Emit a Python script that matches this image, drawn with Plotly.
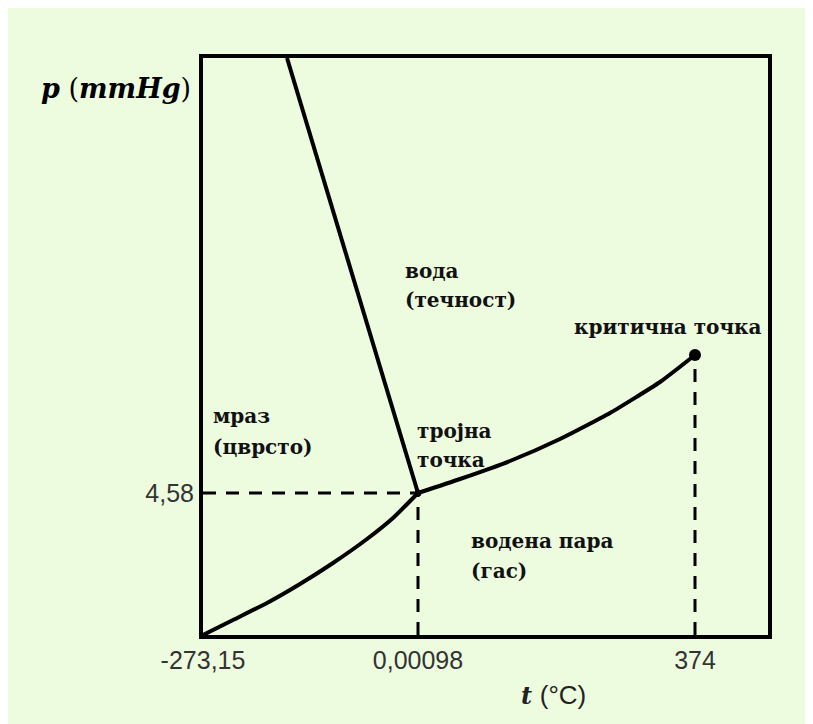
import plotly.graph_objects as go

# Schematic coordinates (arbitrary units, not to scale)
x_tick_vals = [0, 215, 492]
x_tick_text = ["-273,15", "0,00098", "374"]
y_tick_vals = [142]
y_tick_text = ["4,58"]

# sublimation curve (ice - vapour)
subl_x = [0, 30, 64, 97, 130, 164, 190, 215]
subl_y = [0, 15, 32, 51, 72, 96, 117, 142]
# vaporisation curve (liquid - vapour)
vap_x = [215, 257, 307, 357, 407, 457, 492]
vap_y = [142, 156, 174, 196, 222, 253, 280]
# melting curve (ice - liquid)
melt_x = [215, 84]
melt_y = [142, 577]

triple = (215, 142)
critical = (492, 280)

region_labels = [
    ("вода", 200, 364),
    ("(течност)", 200, 335),
    ("мраз", 8, 219),
    ("(цврсто)", 8, 188),
    ("тројна", 212, 204),
    ("точка", 212, 175),
    ("водена пара", 266, 94),
    ("(гас)", 266, 64),
    ("критична точка", 369, 308),
]

X_RANGE = [0, 565]
Y_RANGE = [0, 577]
# page has an 8px body margin
OFF = 8
W, H = 813, 716
L, R, T, B = 195, 53, 50, 89
PW = W - L - R
PH = H - T - B

def px2paper_x(px):
    return (px - OFF - L) / PW

def px2paper_y(py):
    return (H - B - (py - OFF)) / PH

BG = "#EDFBDF"
fig = go.Figure()

line_style = dict(color="black", width=4)
curve_style = dict(color="black", width=4, shape="spline", smoothing=0.5)
dash_style = dict(color="black", width=3, dash="13px,10px")

# dashed guides
fig.add_trace(go.Scatter(x=[0, triple[0]], y=[triple[1], triple[1]], mode="lines",
                         line=dash_style, hoverinfo="skip"))
fig.add_trace(go.Scatter(x=[triple[0], triple[0]], y=[0, triple[1]], mode="lines",
                         line=dash_style, hoverinfo="skip"))
fig.add_trace(go.Scatter(x=[critical[0], critical[0]], y=[0, critical[1]], mode="lines",
                         line=dash_style, hoverinfo="skip"))

fig.add_trace(go.Scatter(x=subl_x, y=subl_y, mode="lines", line=curve_style, hoverinfo="skip"))
fig.add_trace(go.Scatter(x=vap_x, y=vap_y, mode="lines", line=curve_style, hoverinfo="skip"))
fig.add_trace(go.Scatter(x=melt_x, y=melt_y, mode="lines", line=line_style, hoverinfo="skip"))
fig.add_trace(go.Scatter(x=[critical[0]], y=[critical[1]], mode="markers",
                         marker=dict(color="black", size=12), hoverinfo="skip"))
fig.add_trace(go.Scatter(x=[triple[0]], y=[triple[1]], mode="markers",
                         marker=dict(color="black", size=7), hoverinfo="skip"))

label_font = dict(family="DejaVu Serif", size=20, color="#111111")
for txt, lx, ly in region_labels:
    fig.add_annotation(x=lx, y=ly, xref="x", yref="y", text=f"<b>{txt}</b>",
                       showarrow=False, xanchor="left", yanchor="middle", font=label_font)

# axis titles
fig.add_annotation(x=px2paper_x(193), y=px2paper_y(88), xref="paper", yref="paper",
                   text="<b><i>p</i></b> (<b><i>mmHg</i></b>)", showarrow=False,
                   xanchor="right", yanchor="middle",
                   font=dict(family="DejaVu Serif", size=27, color="black"))
fig.add_annotation(x=px2paper_x(519), y=px2paper_y(695), xref="paper", yref="paper",
                   text="<b><i>t</i></b> <span style='font-family:Liberation Sans;font-size:26px'>(°C)</span>",
                   showarrow=False, xanchor="left", yanchor="middle",
                   font=dict(family="DejaVu Serif", size=24, color="#222222"))

tick_font = dict(family="Liberation Sans, Arial, sans-serif", size=25, color="#333333")
fig.update_xaxes(range=X_RANGE, tickvals=x_tick_vals, ticktext=x_tick_text, showgrid=False,
                 zeroline=False, showline=True, linecolor="black", linewidth=4, mirror=True,
                 ticks="", tickfont=tick_font)
fig.update_yaxes(range=Y_RANGE, tickvals=y_tick_vals, ticktext=y_tick_text, showgrid=False,
                 zeroline=False, showline=True, linecolor="black", linewidth=4, mirror=True,
                 ticks="", tickfont=tick_font)
fig.update_layout(width=W, height=H, margin=dict(l=L, r=R, t=T, b=B), showlegend=False,
                  paper_bgcolor=BG, plot_bgcolor=BG)

fig.write_html("out.html")
